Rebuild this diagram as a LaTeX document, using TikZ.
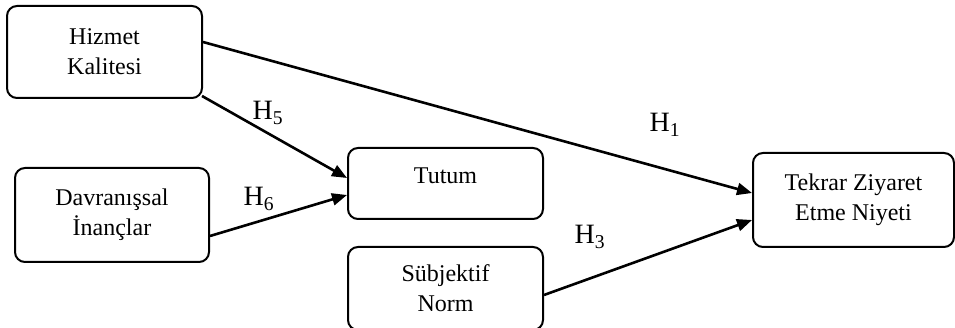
\documentclass[tikz,border=0pt]{standalone}
\usepackage{fontspec}
\setmainfont{Liberation Serif}
\usetikzlibrary{arrows.meta}
\begin{document}
\begin{tikzpicture}[x=1pt,y=-1pt,
        kutu/.style={draw, line width=2pt, rounded corners=10pt, align=center,
            font=\fontsize{24}{30}\selectfont},
        ok/.style={line width=2.6pt, -{Triangle[length=15pt,width=12pt]}},
        hip/.style={anchor=base west, font=\fontsize{28}{30}\selectfont}]
        \useasboundingbox (0,0) rectangle (955,328);
        \node[kutu, minimum width=195pt, minimum height=92pt] (hk) at (104.5,52) {Hizmet\\Kalitesi};
        \node[kutu, minimum width=194pt, minimum height=94pt] (di) at (112,215) {Davranışsal\\İnançlar};
        \node[kutu, minimum width=195pt, minimum height=71pt, text depth=16pt] (tu) at (445.5,183.5) {Tutum};
        \node[kutu, minimum width=195pt, minimum height=83pt] (sn) at (445.5,288.5) {Sübjektif\\Norm};
        \node[kutu, minimum width=201pt, minimum height=94pt] (tzn) at (853.5,200) {Tekrar Ziyaret\\Etme Niyeti};
        \draw[ok] ([yshift=10pt]hk.east) -- ([yshift=7pt]tzn.west);
        \draw[ok] ([xshift=-1pt,yshift=3pt]hk.south east) -- ([yshift=5.5pt]tu.west);
        \draw[ok] ([yshift=-21pt]di.east) -- ([yshift=-11.5pt]tu.west);
        \draw[ok] ([yshift=-6.5pt]sn.east) -- ([yshift=-20pt]tzn.west);
        \node[hip] (h5) at (249,120) {H\textsubscript{5}};
        \node[hip] (h6) at (240,206) {H\textsubscript{6}};
        \node[hip] (h1) at (646,132) {H\textsubscript{1}};
        \node[hip] (h3) at (571,244) {H\textsubscript{3}};
    \end{tikzpicture}
\end{document}
